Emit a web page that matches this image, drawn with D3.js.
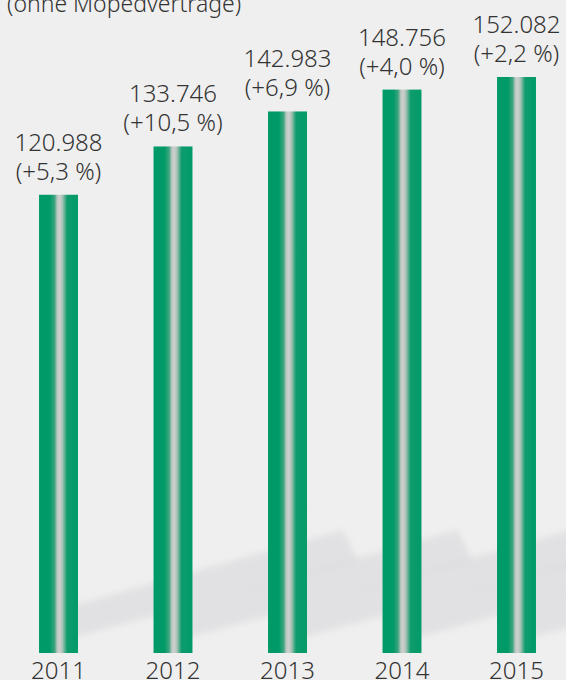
<!DOCTYPE html>
<html>
<head>
<meta charset="utf-8">
<script src="https://cdn.jsdelivr.net/npm/d3@7"></script>
<style>
  body { margin: 0; background: #efefef; }
  svg { display: block; }
  text { font-family: "Noto Sans", sans-serif; font-weight: 300; fill: #333; }
</style>
</head>
<body>
<svg id="chart"></svg>
<script>
// Verträge je Jahr (ohne Mopedverträge)
const years = ['2011', '2012', '2013', '2014', '2015'] ;
const contracts = [120988, 133746, 142983, 148756, 152082] ;
const growth = [5.3, 10.5, 6.9, 4.0, 2.2] ;
const note = '(ohne Mopedverträge)' ;

const width = 566, height = 680 ;
const bottom = 653 ;

const de = d3.formatLocale({ decimal: ',', thousands: '.', grouping: [3], currency: ['', ' €'] }) ;
const fmtValue = de.format(',d') ;
const fmtPct = de.format(',.1f') ;

const svg = d3.select('#chart')
	.attr('width', width)
	.attr('height', height) ;

const x = d3.scaleBand()
	.domain(years)
	.range([1.25, 573.75])
	.paddingInner(0.66)
	.paddingOuter(0.33) ;

const y = d3.scaleLinear()
	.domain([0, 152082])
	.range([bottom, 77]) ;

const defs = svg.append('defs') ;

const grad = defs.append('linearGradient')
	.attr('id', 'barGrad')
	.attr('x1', '0%').attr('x2', '100%')
	.attr('y1', '0%').attr('y2', '0%') ;
[
	[0, '#009a68'], [0.28, '#009a68'], [0.4, '#3ea57f'],
	[0.47, '#bcc8c2'], [0.53, '#cfcfcf'], [0.6, '#a9c3b6'],
	[0.72, '#0f9b6d'], [1, '#009a68']
].forEach(s => grad.append('stop').attr('offset', s[0]).attr('stop-color', s[1])) ;

defs.append('filter')
	.attr('id', 'blur')
	.attr('x', '-20%').attr('y', '-50%')
	.attr('width', '140%').attr('height', '200%')
	.append('feGaussianBlur')
	.attr('stdDeviation', 3) ;

// diagonal shadows behind the bars, one per bar
svg.append('g')
	.selectAll('path')
	.data(years)
	.enter()
	.append('path')
	.attr('filter', 'url(#blur)')
	.attr('d', d => {
		const r = x(d) + x.bandwidth() ;
		return 'M' + (r - 10) + ',' + (bottom - 46)
			+ 'L' + (r + 265) + ',' + (bottom - 123)
			+ 'L' + (r + 280) + ',' + (bottom - 92)
			+ 'L' + (r - 10) + ',' + (bottom - 14) + 'Z' ;
	})
	.attr('fill', '#cdced1')
	.attr('fill-opacity', 0.4) ;

svg.selectAll('rect.bar')
	.data(contracts)
	.enter()
	.append('rect')
	.attr('class', 'bar')
	.attr('x', (d, i) => x(years[i]))
	.attr('y', d => y(d))
	.attr('width', x.bandwidth())
	.attr('height', d => bottom - y(d))
	.attr('fill', 'url(#barGrad)') ;

svg.selectAll('text.value')
	.data(contracts)
	.enter()
	.append('text')
	.attr('class', 'value')
	.attr('x', (d, i) => x(years[i]) + x.bandwidth() / 2)
	.attr('y', d => y(d) - 44)
	.attr('text-anchor', 'middle')
	.attr('font-size', '24px')
	.text(d => fmtValue(d)) ;

svg.selectAll('text.pct')
	.data(growth)
	.enter()
	.append('text')
	.attr('class', 'pct')
	.attr('x', (d, i) => x(years[i]) + x.bandwidth() / 2)
	.attr('y', (d, i) => y(contracts[i]) - 15)
	.attr('text-anchor', 'middle')
	.attr('font-size', '24px')
	.text(d => '(+' + fmtPct(d) + ' %)') ;

svg.append('g')
	.attr('transform', 'translate(0,' + bottom + ')')
	.call(d3.axisBottom(x).tickSize(0).tickPadding(0))
	.call(g => g.select('.domain').remove())
	.selectAll('text')
	.attr('font-size', '24px')
	.attr('font-family', null)
	.attr('dy', null)
	.attr('y', 26) ;

svg.append('text')
	.attr('x', 7)
	.attr('y', 12)
	.attr('font-size', '23px')
	.text(note) ;
</script>
</body>
</html>
